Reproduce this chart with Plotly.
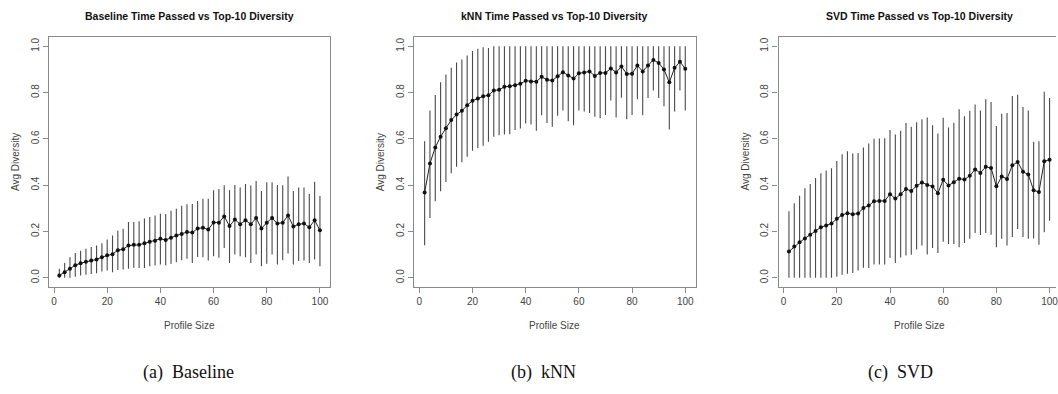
import numpy as np
import plotly.graph_objects as go

W, H = 1058, 394

profile_size = list(range(2, 101, 2))

baseline_mean = [0.010, 0.024, 0.039, 0.054, 0.063, 0.069, 0.074, 0.079, 0.089, 0.097,
                 0.102, 0.119, 0.123, 0.139, 0.142, 0.142, 0.149, 0.155, 0.160, 0.168,
                 0.163, 0.173, 0.182, 0.189, 0.198, 0.195, 0.213, 0.216, 0.208, 0.239,
                 0.238, 0.265, 0.223, 0.252, 0.231, 0.248, 0.231, 0.258, 0.213, 0.238,
                 0.258, 0.234, 0.238, 0.269, 0.221, 0.231, 0.234, 0.218, 0.248, 0.205]
baseline_hi = [0.039, 0.064, 0.089, 0.107, 0.117, 0.125, 0.133, 0.139, 0.149, 0.165,
               0.182, 0.203, 0.212, 0.241, 0.241, 0.244, 0.256, 0.262, 0.269, 0.276,
               0.275, 0.289, 0.298, 0.311, 0.317, 0.319, 0.332, 0.341, 0.341, 0.378,
               0.383, 0.400, 0.378, 0.401, 0.390, 0.405, 0.398, 0.418, 0.375, 0.413,
               0.413, 0.401, 0.400, 0.437, 0.375, 0.390, 0.390, 0.362, 0.415, 0.353]
baseline_lo = [0.000, 0.000, 0.000, 0.004, 0.010, 0.013, 0.016, 0.019, 0.027, 0.031,
               0.024, 0.033, 0.036, 0.039, 0.043, 0.042, 0.042, 0.050, 0.053, 0.057,
               0.054, 0.060, 0.067, 0.076, 0.082, 0.064, 0.090, 0.089, 0.074, 0.093,
               0.086, 0.129, 0.064, 0.100, 0.093, 0.089, 0.064, 0.100, 0.050, 0.060,
               0.100, 0.057, 0.076, 0.105, 0.057, 0.072, 0.074, 0.064, 0.079, 0.050]

knn_mean = [0.368, 0.494, 0.563, 0.609, 0.646, 0.681, 0.705, 0.721, 0.745, 0.765,
            0.774, 0.784, 0.788, 0.809, 0.812, 0.825, 0.827, 0.832, 0.838, 0.851,
            0.848, 0.847, 0.868, 0.855, 0.852, 0.870, 0.888, 0.874, 0.861, 0.883,
            0.887, 0.891, 0.872, 0.885, 0.885, 0.904, 0.887, 0.913, 0.880, 0.881,
            0.917, 0.891, 0.917, 0.941, 0.928, 0.900, 0.844, 0.907, 0.933, 0.903]
knn_hi = [0.590, 0.723, 0.789, 0.845, 0.878, 0.907, 0.930, 0.943, 0.960, 0.980,
          0.989, 0.996, 0.993, 1.0, 1.0, 1.0, 1.0, 1.0, 1.0, 1.0,
          1.0, 1.0, 1.0, 1.0, 1.0, 1.0, 1.0, 1.0, 1.0, 1.0,
          1.0, 1.0, 1.0, 1.0, 1.0, 1.0, 1.0, 1.0, 1.0, 1.0,
          1.0, 1.0, 1.0, 1.0, 1.0, 1.0, 1.0, 1.0, 1.0, 1.0]
knn_lo = [0.140, 0.258, 0.330, 0.374, 0.414, 0.451, 0.480, 0.499, 0.523, 0.549,
          0.560, 0.570, 0.587, 0.609, 0.616, 0.619, 0.620, 0.638, 0.645, 0.666,
          0.662, 0.635, 0.702, 0.669, 0.652, 0.700, 0.723, 0.676, 0.659, 0.723,
          0.718, 0.712, 0.695, 0.689, 0.703, 0.766, 0.692, 0.778, 0.685, 0.703,
          0.771, 0.702, 0.777, 0.809, 0.777, 0.741, 0.640, 0.718, 0.809, 0.723]

svd_mean = [0.113, 0.135, 0.153, 0.170, 0.186, 0.202, 0.218, 0.226, 0.234, 0.255,
            0.271, 0.279, 0.274, 0.278, 0.301, 0.312, 0.330, 0.332, 0.332, 0.361,
            0.342, 0.361, 0.383, 0.375, 0.397, 0.411, 0.401, 0.394, 0.365, 0.423,
            0.398, 0.413, 0.428, 0.424, 0.441, 0.468, 0.453, 0.479, 0.474, 0.395,
            0.437, 0.427, 0.486, 0.500, 0.458, 0.446, 0.378, 0.370, 0.503, 0.510]
svd_hi = [0.287, 0.322, 0.354, 0.387, 0.405, 0.431, 0.451, 0.463, 0.473, 0.504,
          0.533, 0.546, 0.537, 0.539, 0.563, 0.580, 0.600, 0.602, 0.603, 0.638,
          0.619, 0.635, 0.669, 0.652, 0.672, 0.685, 0.692, 0.659, 0.623, 0.691,
          0.649, 0.670, 0.728, 0.698, 0.721, 0.748, 0.723, 0.771, 0.759, 0.655,
          0.708, 0.712, 0.785, 0.791, 0.738, 0.723, 0.587, 0.590, 0.804, 0.776]
svd_lo = [0.000, 0.000, 0.000, 0.000, 0.000, 0.000, 0.000, 0.000, 0.000, 0.004,
          0.013, 0.017, 0.021, 0.031, 0.043, 0.042, 0.057, 0.057, 0.057, 0.085,
          0.064, 0.087, 0.096, 0.099, 0.122, 0.139, 0.100, 0.129, 0.107, 0.155,
          0.146, 0.146, 0.132, 0.150, 0.168, 0.193, 0.185, 0.193, 0.186, 0.132,
          0.168, 0.139, 0.176, 0.211, 0.176, 0.168, 0.169, 0.143, 0.196, 0.246]

panels = [
    ("Baseline Time Passed vs Top-10 Diversity", "(a)  Baseline", baseline_mean, baseline_lo, baseline_hi),
    ("kNN Time Passed vs Top-10 Diversity", "(b)  kNN", knn_mean, knn_lo, knn_hi),
    ("SVD Time Passed vs Top-10 Diversity", "(c)  SVD", svd_mean, svd_lo, svd_hi),
]

x_ticks = [0, 20, 40, 60, 80, 100]
y_ticks = [0.0, 0.2, 0.4, 0.6, 0.8, 1.0]
y_tick_text = ["0.0", "0.2", "0.4", "0.6", "0.8", "1.0"]

# plot boxes in pixels: (left, right); shared top/bottom
box_px = [(49, 331), (415, 697), (780, 1062)]
caption_cx = [189, 545, 902]
box_top, box_bot = 37, 287
frame = "#8a8a8a"
ink = "#444444"
sans = "Liberation Sans, Arial"

fig = go.Figure()
layout = dict(
    width=W, height=H, margin=dict(l=0, r=0, t=0, b=0),
    paper_bgcolor="white", plot_bgcolor="white", showlegend=False,
    annotations=[],
)

ydom = [(H - box_bot) / H, (H - box_top) / H]
x_lo = -1.92
px_per_unit = (box_px[0][1] - box_px[0][0]) / 105.84

for i, (title, caption, mean, lo, hi) in enumerate(panels):
    k = "" if i == 0 else str(i + 1)
    left, right = box_px[i]
    right_c = min(right, W)
    clipped = right > W
    x_hi = x_lo + (right_c - left) / px_per_unit
    mean_a = np.array(mean)
    up = np.array(hi) - mean_a
    dn = mean_a - np.array(lo)

    fig.add_trace(go.Scatter(
        x=profile_size, y=mean, mode="lines+markers",
        xaxis="x" + k, yaxis="y" + k, cliponaxis=False,
        line=dict(color="#222222", width=1),
        marker=dict(color="#111111", size=4),
        error_y=dict(type="data", symmetric=False, array=up, arrayminus=dn,
                     color="#4a4a4a", thickness=1.1, width=0),
    ))

    layout["xaxis" + k] = dict(
        domain=[left / W, right_c / W], range=[x_lo, x_hi], anchor="y" + k,
        showgrid=False, zeroline=False, showline=True, mirror=True,
        linecolor=frame, linewidth=1.3, ticks="outside", ticklen=5,
        tickcolor=frame, tickwidth=1, tickvals=x_ticks,
        ticklabeloverflow="allow",
        tickfont=dict(family=sans, size=10, color=ink),
    )
    layout["yaxis" + k] = dict(
        domain=ydom, range=[-0.04, 1.04], anchor="x" + k,
        showgrid=False, zeroline=False, showline=True, mirror=not clipped,
        linecolor=frame, linewidth=1.3, ticks="outside", ticklen=5,
        tickcolor=frame, tickwidth=1, tickvals=y_ticks, ticktext=y_tick_text,
        tickangle=-90,
        tickfont=dict(family=sans, size=10, color=ink),
    )

    cx = (left + right) / 2 / W
    ann = layout["annotations"]
    ann.append(dict(text="<b>" + title + "</b>", x=cx, y=1 - 16 / H, xref="paper", yref="paper",
                    showarrow=False, xanchor="center", yanchor="middle",
                    font=dict(family=sans, size=10.5, color="#111111")))
    ann.append(dict(text="Profile Size", x=cx, y=1 - 325 / H, xref="paper", yref="paper",
                    showarrow=False, xanchor="center", yanchor="middle",
                    font=dict(family=sans, size=10, color=ink)))
    ann.append(dict(text="Avg Diversity", x=(left - 34) / W, y=1 - 162 / H, xref="paper", yref="paper",
                    showarrow=False, xanchor="center", yanchor="middle", textangle=-90,
                    font=dict(family=sans, size=10, color=ink)))
    ann.append(dict(text=caption.replace("  ", "&nbsp;&nbsp;"), x=caption_cx[i] / W, y=1 - 372 / H,
                    xref="paper", yref="paper",
                    showarrow=False, xanchor="center", yanchor="middle",
                    font=dict(family="Liberation Serif, Times New Roman", size=18, color="#111111")))

fig.update_layout(**layout)
fig.write_html("out.html")
